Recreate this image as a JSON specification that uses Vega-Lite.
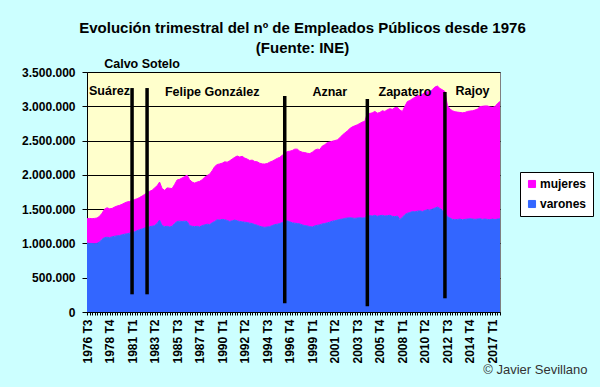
{
  "$schema": "https://vega.github.io/schema/vega-lite/v6.json",
  "autosize": "none",
  "width": 413,
  "height": 240,
  "padding": {"left": 87, "top": 72, "right": 100, "bottom": 75},
  "background": "#CCFFFF",
  "title": {
    "text": ["Evolución trimestral del nº de Empleados Públicos desde 1976", "(Fuente: INE)"],
    "font": "Liberation Sans",
    "fontSize": 15,
    "fontWeight": "bold",
    "color": "#000000",
    "lineHeight": 20,
    "anchor": "middle",
    "dx": 9,
    "offset": 2
  },
  "config": {
    "view": {"fill": "#FFFFCC", "stroke": "#808080", "strokeWidth": 1},
    "axis": {"labelFont": "Liberation Sans", "titleFont": "Liberation Sans"}
  },
  "datasets": {
    "empleo": [
      {"q":"1976 T3","varones":1005000,"mujeres":355000},
      {"q":"1976 T4","varones":1000000,"mujeres":365000},
      {"q":"1977 T1","varones":998000,"mujeres":362000},
      {"q":"1977 T2","varones":995000,"mujeres":370000},
      {"q":"1977 T3","varones":1000000,"mujeres":370000},
      {"q":"1977 T4","varones":1020000,"mujeres":375000},
      {"q":"1978 T1","varones":1060000,"mujeres":380000},
      {"q":"1978 T2","varones":1085000,"mujeres":415000},
      {"q":"1978 T3","varones":1090000,"mujeres":430000},
      {"q":"1978 T4","varones":1085000,"mujeres":420000},
      {"q":"1979 T1","varones":1095000,"mujeres":415000},
      {"q":"1979 T2","varones":1105000,"mujeres":425000},
      {"q":"1979 T3","varones":1110000,"mujeres":435000},
      {"q":"1979 T4","varones":1115000,"mujeres":440000},
      {"q":"1980 T1","varones":1125000,"mujeres":445000},
      {"q":"1980 T2","varones":1135000,"mujeres":455000},
      {"q":"1980 T3","varones":1140000,"mujeres":465000},
      {"q":"1980 T4","varones":1150000,"mujeres":462000},
      {"q":"1981 T1","varones":1160000,"mujeres":465000},
      {"q":"1981 T2","varones":1170000,"mujeres":470000},
      {"q":"1981 T3","varones":1185000,"mujeres":465000},
      {"q":"1981 T4","varones":1200000,"mujeres":470000},
      {"q":"1982 T1","varones":1210000,"mujeres":480000},
      {"q":"1982 T2","varones":1225000,"mujeres":490000},
      {"q":"1982 T3","varones":1235000,"mujeres":505000},
      {"q":"1982 T4","varones":1245000,"mujeres":515000},
      {"q":"1983 T1","varones":1250000,"mujeres":525000},
      {"q":"1983 T2","varones":1260000,"mujeres":550000},
      {"q":"1983 T3","varones":1290000,"mujeres":550000},
      {"q":"1983 T4","varones":1340000,"mujeres":555000},
      {"q":"1984 T1","varones":1260000,"mujeres":540000},
      {"q":"1984 T2","varones":1245000,"mujeres":530000},
      {"q":"1984 T3","varones":1250000,"mujeres":560000},
      {"q":"1984 T4","varones":1240000,"mujeres":565000},
      {"q":"1985 T1","varones":1250000,"mujeres":550000},
      {"q":"1985 T2","varones":1290000,"mujeres":570000},
      {"q":"1985 T3","varones":1320000,"mujeres":605000},
      {"q":"1985 T4","varones":1325000,"mujeres":610000},
      {"q":"1986 T1","varones":1320000,"mujeres":635000},
      {"q":"1986 T2","varones":1325000,"mujeres":650000},
      {"q":"1986 T3","varones":1320000,"mujeres":675000},
      {"q":"1986 T4","varones":1260000,"mujeres":670000},
      {"q":"1987 T1","varones":1250000,"mujeres":645000},
      {"q":"1987 T2","varones":1245000,"mujeres":635000},
      {"q":"1987 T3","varones":1250000,"mujeres":645000},
      {"q":"1987 T4","varones":1240000,"mujeres":665000},
      {"q":"1988 T1","varones":1260000,"mujeres":670000},
      {"q":"1988 T2","varones":1270000,"mujeres":695000},
      {"q":"1988 T3","varones":1280000,"mujeres":710000},
      {"q":"1988 T4","varones":1275000,"mujeres":735000},
      {"q":"1989 T1","varones":1300000,"mujeres":760000},
      {"q":"1989 T2","varones":1320000,"mujeres":800000},
      {"q":"1989 T3","varones":1345000,"mujeres":805000},
      {"q":"1989 T4","varones":1340000,"mujeres":820000},
      {"q":"1990 T1","varones":1350000,"mujeres":820000},
      {"q":"1990 T2","varones":1345000,"mujeres":845000},
      {"q":"1990 T3","varones":1335000,"mujeres":850000},
      {"q":"1990 T4","varones":1320000,"mujeres":885000},
      {"q":"1991 T1","varones":1330000,"mujeres":900000},
      {"q":"1991 T2","varones":1340000,"mujeres":915000},
      {"q":"1991 T3","varones":1330000,"mujeres":945000},
      {"q":"1991 T4","varones":1320000,"mujeres":940000},
      {"q":"1992 T1","varones":1315000,"mujeres":955000},
      {"q":"1992 T2","varones":1310000,"mujeres":935000},
      {"q":"1992 T3","varones":1305000,"mujeres":925000},
      {"q":"1992 T4","varones":1295000,"mujeres":915000},
      {"q":"1993 T1","varones":1290000,"mujeres":925000},
      {"q":"1993 T2","varones":1275000,"mujeres":920000},
      {"q":"1993 T3","varones":1265000,"mujeres":925000},
      {"q":"1993 T4","varones":1250000,"mujeres":920000},
      {"q":"1994 T1","varones":1240000,"mujeres":920000},
      {"q":"1994 T2","varones":1235000,"mujeres":923000},
      {"q":"1994 T3","varones":1240000,"mujeres":925000},
      {"q":"1994 T4","varones":1245000,"mujeres":940000},
      {"q":"1995 T1","varones":1260000,"mujeres":940000},
      {"q":"1995 T2","varones":1275000,"mujeres":945000},
      {"q":"1995 T3","varones":1280000,"mujeres":960000},
      {"q":"1995 T4","varones":1290000,"mujeres":965000},
      {"q":"1996 T1","varones":1305000,"mujeres":980000},
      {"q":"1996 T2","varones":1315000,"mujeres":995000},
      {"q":"1996 T3","varones":1330000,"mujeres":1010000},
      {"q":"1996 T4","varones":1315000,"mujeres":1030000},
      {"q":"1997 T1","varones":1300000,"mujeres":1055000},
      {"q":"1997 T2","varones":1295000,"mujeres":1080000},
      {"q":"1997 T3","varones":1290000,"mujeres":1085000},
      {"q":"1997 T4","varones":1285000,"mujeres":1060000},
      {"q":"1998 T1","varones":1270000,"mujeres":1060000},
      {"q":"1998 T2","varones":1260000,"mujeres":1065000},
      {"q":"1998 T3","varones":1255000,"mujeres":1060000},
      {"q":"1998 T4","varones":1245000,"mujeres":1065000},
      {"q":"1999 T1","varones":1240000,"mujeres":1090000},
      {"q":"1999 T2","varones":1255000,"mujeres":1105000},
      {"q":"1999 T3","varones":1265000,"mujeres":1110000},
      {"q":"1999 T4","varones":1270000,"mujeres":1100000},
      {"q":"2000 T1","varones":1285000,"mujeres":1135000},
      {"q":"2000 T2","varones":1290000,"mujeres":1150000},
      {"q":"2000 T3","varones":1300000,"mujeres":1170000},
      {"q":"2000 T4","varones":1310000,"mujeres":1170000},
      {"q":"2001 T1","varones":1325000,"mujeres":1165000},
      {"q":"2001 T2","varones":1330000,"mujeres":1170000},
      {"q":"2001 T3","varones":1340000,"mujeres":1170000},
      {"q":"2001 T4","varones":1350000,"mujeres":1190000},
      {"q":"2002 T1","varones":1355000,"mujeres":1225000},
      {"q":"2002 T2","varones":1365000,"mujeres":1245000},
      {"q":"2002 T3","varones":1370000,"mujeres":1270000},
      {"q":"2002 T4","varones":1375000,"mujeres":1300000},
      {"q":"2003 T1","varones":1370000,"mujeres":1330000},
      {"q":"2003 T2","varones":1365000,"mujeres":1350000},
      {"q":"2003 T3","varones":1370000,"mujeres":1360000},
      {"q":"2003 T4","varones":1375000,"mujeres":1375000},
      {"q":"2004 T1","varones":1370000,"mujeres":1400000},
      {"q":"2004 T2","varones":1375000,"mujeres":1405000},
      {"q":"2004 T3","varones":1410000,"mujeres":1490000},
      {"q":"2004 T4","varones":1405000,"mujeres":1490000},
      {"q":"2005 T1","varones":1400000,"mujeres":1505000},
      {"q":"2005 T2","varones":1410000,"mujeres":1515000},
      {"q":"2005 T3","varones":1395000,"mujeres":1505000},
      {"q":"2005 T4","varones":1405000,"mujeres":1505000},
      {"q":"2006 T1","varones":1410000,"mujeres":1525000},
      {"q":"2006 T2","varones":1400000,"mujeres":1525000},
      {"q":"2006 T3","varones":1405000,"mujeres":1545000},
      {"q":"2006 T4","varones":1410000,"mujeres":1555000},
      {"q":"2007 T1","varones":1395000,"mujeres":1560000},
      {"q":"2007 T2","varones":1390000,"mujeres":1590000},
      {"q":"2007 T3","varones":1400000,"mujeres":1585000},
      {"q":"2007 T4","varones":1350000,"mujeres":1595000},
      {"q":"2008 T1","varones":1380000,"mujeres":1545000},
      {"q":"2008 T2","varones":1420000,"mujeres":1580000},
      {"q":"2008 T3","varones":1440000,"mujeres":1630000},
      {"q":"2008 T4","varones":1450000,"mujeres":1635000},
      {"q":"2009 T1","varones":1465000,"mujeres":1645000},
      {"q":"2009 T2","varones":1460000,"mujeres":1670000},
      {"q":"2009 T3","varones":1470000,"mujeres":1690000},
      {"q":"2009 T4","varones":1475000,"mujeres":1675000},
      {"q":"2010 T1","varones":1465000,"mujeres":1710000},
      {"q":"2010 T2","varones":1480000,"mujeres":1720000},
      {"q":"2010 T3","varones":1490000,"mujeres":1725000},
      {"q":"2010 T4","varones":1485000,"mujeres":1725000},
      {"q":"2011 T1","varones":1500000,"mujeres":1745000},
      {"q":"2011 T2","varones":1515000,"mujeres":1765000},
      {"q":"2011 T3","varones":1530000,"mujeres":1765000},
      {"q":"2011 T4","varones":1510000,"mujeres":1750000},
      {"q":"2012 T1","varones":1480000,"mujeres":1760000},
      {"q":"2012 T2","varones":1455000,"mujeres":1760000},
      {"q":"2012 T3","varones":1390000,"mujeres":1620000},
      {"q":"2012 T4","varones":1370000,"mujeres":1590000},
      {"q":"2013 T1","varones":1350000,"mujeres":1585000},
      {"q":"2013 T2","varones":1345000,"mujeres":1575000},
      {"q":"2013 T3","varones":1350000,"mujeres":1565000},
      {"q":"2013 T4","varones":1355000,"mujeres":1555000},
      {"q":"2014 T1","varones":1345000,"mujeres":1560000},
      {"q":"2014 T2","varones":1350000,"mujeres":1560000},
      {"q":"2014 T3","varones":1355000,"mujeres":1570000},
      {"q":"2014 T4","varones":1360000,"mujeres":1570000},
      {"q":"2015 T1","varones":1355000,"mujeres":1580000},
      {"q":"2015 T2","varones":1350000,"mujeres":1595000},
      {"q":"2015 T3","varones":1355000,"mujeres":1605000},
      {"q":"2015 T4","varones":1360000,"mujeres":1635000},
      {"q":"2016 T1","varones":1350000,"mujeres":1650000},
      {"q":"2016 T2","varones":1355000,"mujeres":1650000},
      {"q":"2016 T3","varones":1350000,"mujeres":1655000},
      {"q":"2016 T4","varones":1345000,"mujeres":1645000},
      {"q":"2017 T1","varones":1355000,"mujeres":1630000},
      {"q":"2017 T2","varones":1345000,"mujeres":1650000},
      {"q":"2017 T3","varones":1355000,"mujeres":1685000},
      {"q":"2017 T4","varones":1360000,"mujeres":1710000}
    ],
    "cambios": [
      {"q":"1981 T1","top":3266000,"bottom":258000},
      {"q":"1982 T3","top":3266000,"bottom":258000},
      {"q":"1996 T2","top":3149000,"bottom":127000},
      {"q":"2004 T3","top":3105000,"bottom":83000},
      {"q":"2012 T2","top":3208000,"bottom":200000}
    ],
    "presidentes": [
      {"q":"1978 T4","y":3222000,"nombre":"Suárez"},
      {"q":"1982 T1","y":3619000,"nombre":"Calvo Sotelo"},
      {"q":"1989 T1","y":3203000,"nombre":"Felipe González"},
      {"q":"2000 T4","y":3203000,"nombre":"Aznar"},
      {"q":"2008 T2","y":3203000,"nombre":"Zapatero"},
      {"q":"2015 T1","y":3222000,"nombre":"Rajoy"}
    ]
  },
  "layer": [
    {
      "data": {"name": "empleo"},
      "transform": [{"fold": ["varones", "mujeres"], "as": ["sexo", "n"]}],
      "mark": {"type": "area", "opacity": 1, "line": {"color": "#000000", "strokeWidth": 1}},
      "encoding": {
        "x": {
          "field": "q",
          "type": "ordinal",
          "scale": {"type": "point", "padding": 0},
          "axis": {
            "title": "© Javier Sevillano",
            "titleFont": "Liberation Sans",
            "titleFontSize": 13,
            "titleFontWeight": "normal",
            "titleColor": "#333333",
            "titleAnchor": "end",
            "titleAlign": "right",
            "titleBaseline": "alphabetic",
            "titleX": 500,
            "titleY": 61,
            "labelAngle": -90,
            "labelFontSize": 12,
            "labelFontWeight": "bold",
            "labelColor": "#000000",
            "labelOverlap": false,
            "labelPadding": 4,
            "labelExpr": "indexof(['1976 T3','1978 T4','1981 T1','1983 T2','1985 T3','1987 T4','1990 T1','1992 T2','1994 T3','1996 T4','1999 T1','2001 T2','2003 T3','2005 T4','2008 T1','2010 T2','2012 T3','2014 T4','2017 T1'], datum.value) >= 0 ? datum.value : ''",
            "tickSize": 3,
            "tickColor": "#000000",
            "domainColor": "#000000",
            "grid": false
          }
        },
        "y": {
          "field": "n",
          "type": "quantitative",
          "stack": "zero",
          "scale": {"domain": [0, 3500000], "nice": false, "zero": true},
          "axis": {
            "title": null,
            "values": [0, 500000, 1000000, 1500000, 2000000, 2500000, 3000000, 3500000],
            "labelExpr": "replace(replace(format(datum.value, ','), ',', '.'), ',', '.')",
            "labelOverlap": false,
            "labelFlush": false,
            "labelBound": false,
            "labelFontSize": 12,
            "labelFontWeight": "bold",
            "labelColor": "#000000",
            "labelPadding": 7,
            "tickSize": 5,
            "tickColor": "#000000",
            "domainColor": "#000000",
            "grid": true,
            "gridColor": "#000000",
            "gridOpacity": 1,
            "gridWidth": 1
          }
        },
        "color": {
          "field": "sexo",
          "type": "nominal",
          "scale": {"domain": ["mujeres", "varones"], "range": ["#FF00FF", "#3366FF"]},
          "legend": {
            "title": null,
            "orient": "none",
            "legendX": 433,
            "legendY": 100,
            "fillColor": "#FFFFFF",
            "strokeColor": "#000000",
            "padding": 6,
            "rowPadding": 8,
            "symbolType": "square",
            "symbolSize": 50,
            "symbolStrokeColor": "#333333",
            "symbolStrokeWidth": 1,
            "symbolOpacity": 1,
            "labelFont": "Liberation Sans",
            "labelFontSize": 12,
            "labelFontWeight": "bold",
            "labelColor": "#000000",
            "labelOffset": 2
          }
        },
        "order": {"field": "sexo", "sort": "descending"}
      }
    },
    {
      "data": {"name": "cambios"},
      "mark": {"type": "rule", "color": "#000000", "strokeWidth": 3.5},
      "encoding": {
        "x": {"field": "q", "type": "ordinal"},
        "y": {
          "field": "top",
          "type": "quantitative",
          "axis": {
            "title": null,
            "values": [0, 500000, 1000000, 1500000, 2000000, 2500000, 3000000, 3500000],
            "labelExpr": "replace(replace(format(datum.value, ','), ',', '.'), ',', '.')",
            "labelOverlap": false,
            "labelFlush": false,
            "labelBound": false,
            "labelFontSize": 12,
            "labelFontWeight": "bold",
            "labelColor": "#000000",
            "labelPadding": 7,
            "tickSize": 5,
            "tickColor": "#000000",
            "domainColor": "#000000",
            "grid": true,
            "gridColor": "#000000",
            "gridOpacity": 1,
            "gridWidth": 1
          }
        },
        "y2": {"field": "bottom"}
      }
    },
    {
      "data": {"name": "presidentes"},
      "mark": {"type": "text", "font": "Liberation Sans", "fontSize": 12.5, "fontWeight": "bold", "color": "#000000", "align": "center", "baseline": "middle", "clip": false},
      "encoding": {
        "x": {"field": "q", "type": "ordinal"},
        "y": {
          "field": "y",
          "type": "quantitative",
          "axis": {
            "title": null,
            "values": [0, 500000, 1000000, 1500000, 2000000, 2500000, 3000000, 3500000],
            "labelExpr": "replace(replace(format(datum.value, ','), ',', '.'), ',', '.')",
            "labelOverlap": false,
            "labelFlush": false,
            "labelBound": false,
            "labelFontSize": 12,
            "labelFontWeight": "bold",
            "labelColor": "#000000",
            "labelPadding": 7,
            "tickSize": 5,
            "tickColor": "#000000",
            "domainColor": "#000000",
            "grid": true,
            "gridColor": "#000000",
            "gridOpacity": 1,
            "gridWidth": 1
          }
        },
        "text": {"field": "nombre"}
      }
    }
  ]
}
